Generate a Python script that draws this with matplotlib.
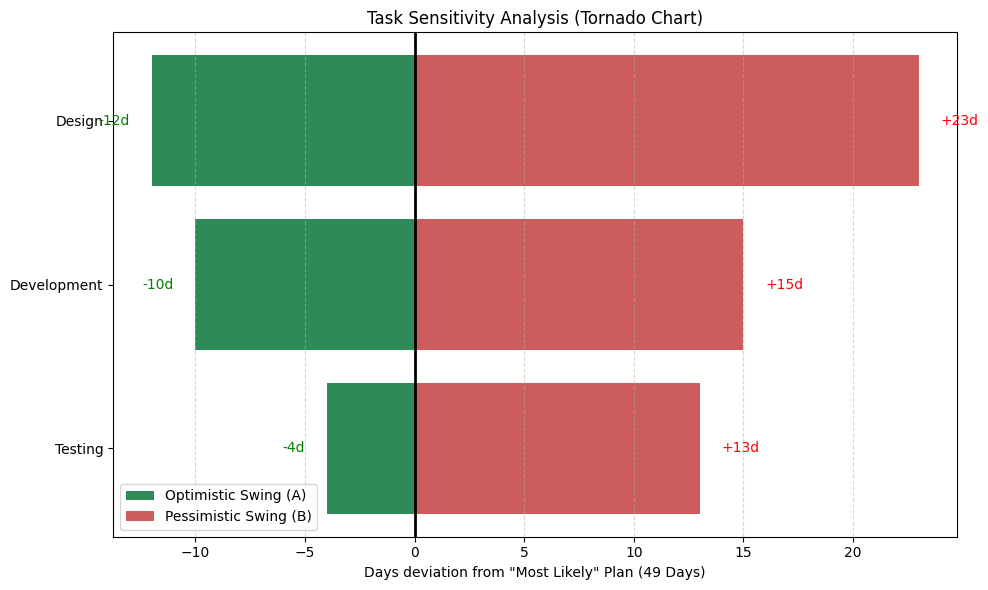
import numpy as np
import matplotlib
matplotlib.use("Agg")
import matplotlib.pyplot as plt

tasks = ["Design", "Development", "Testing"]
optimistic = [-12, -10, -4]
pessimistic = [23, 15, 13]
most_likely_total = 49

fig, ax = plt.subplots(figsize=(10, 6), dpi=100)

y = np.arange(len(tasks))[::-1]

ax.barh(y, optimistic, color="seagreen", label="Optimistic Swing (A)")
ax.barh(y, pessimistic, color="indianred", label="Pessimistic Swing (B)")

for yi, lo, hi in zip(y, optimistic, pessimistic):
    ax.text(lo - 1, yi, f"{lo}d", va="center", ha="right", color="green")
    ax.text(hi + 1, yi, f"+{hi}d", va="center", ha="left", color="red")

ax.axvline(0, color="black", linewidth=2)
ax.set_yticks(y)
ax.set_yticklabels(tasks)
ax.set_xlabel(f'Days deviation from "Most Likely" Plan ({most_likely_total} Days)')
ax.set_title("Task Sensitivity Analysis (Tornado Chart)")
ax.legend(loc="lower left")
ax.grid(axis="x", linestyle="--", alpha=0.5)

plt.tight_layout()
fig.savefig("out.png", bbox_inches="tight")
